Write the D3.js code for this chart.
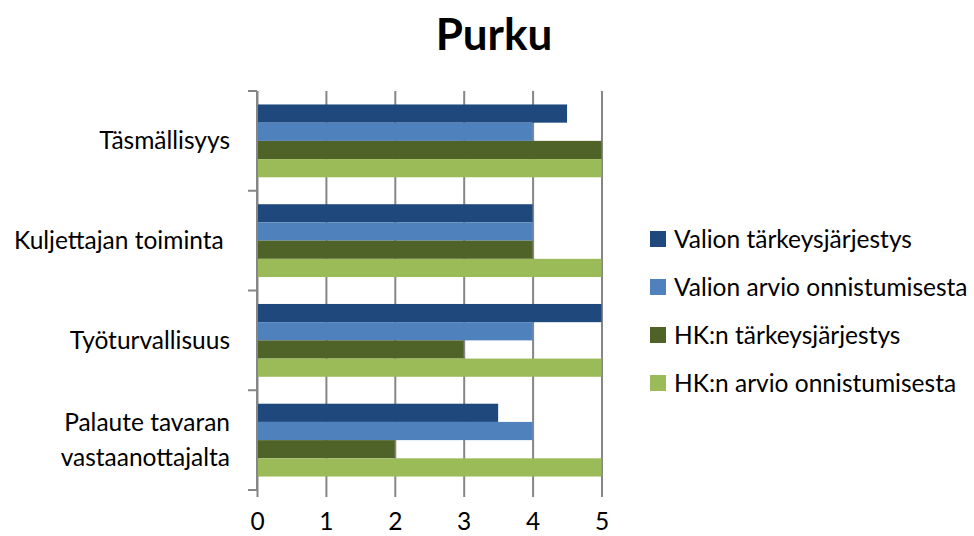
<!DOCTYPE html>
<html>
<head>
<meta charset="utf-8">
<script src="https://cdn.jsdelivr.net/npm/d3@7"></script>
<style>
  html, body { margin: 0; padding: 0; background: #fff; }
  svg { display: block; font-family: Lato, "Open Sans", sans-serif; }
</style>
</head>
<body>
<svg id="chart" width="974" height="536"></svg>
<script>
// Categories (top to bottom) and the four series, one value per category
const categories = ["Täsmällisyys", "Kuljettajan toiminta ", "Työturvallisuus", "Palaute tavaran vastaanottajalta"];
const categoryLines = [["Täsmällisyys"], ["Kuljettajan toiminta "], ["Työturvallisuus"], ["Palaute tavaran", "vastaanottajalta"]];
const seriesNames = ["Valion tärkeysjärjestys", "Valion arvio onnistumisesta", "HK:n tärkeysjärjestys", "HK:n arvio onnistumisesta"];
const valionTarkeys = [4.5, 4, 5, 3.5];
const valionArvio = [4, 4, 4, 4];
const hkTarkeys = [5, 4, 3, 2];
const hkArvio = [5, 5, 5, 5];
const xTicks = [0, 1, 2, 3, 4, 5];
const colors = ["#1F497D", "#4F81BD", "#4F6228", "#9BBB59"];
const seriesValues = [valionTarkeys, valionArvio, hkTarkeys, hkArvio];

const FS = 24.5;
const svg = d3.select("#chart");
const plot = { left: 257, right: 601.5, top: 91, bottom: 490 };

const x = d3.scaleLinear().domain([0, 5]).range([plot.left, plot.right]);
const y = d3.scaleBand().domain(categories).range([plot.top, plot.bottom]).paddingInner(0.27).paddingOuter(0.135);
const ySeries = d3.scaleBand().domain(seriesNames).range([0, y.bandwidth()]);

// Title
svg.append("text")
  .attr("x", 494).attr("y", 50)
  .attr("text-anchor", "middle")
  .attr("font-size", 44).attr("font-weight", "bold")
  .attr("fill", "#000")
  .text("Purku");

// Vertical gridlines + x axis ticks
const xAxis = d3.axisBottom(x).tickValues(xTicks).tickSize(plot.bottom - plot.top + 7).tickSizeOuter(0).tickFormat(d3.format("d"));
const gx = svg.append("g").attr("transform", `translate(0,${plot.top})`).call(xAxis);
gx.select(".domain").remove();
gx.selectAll(".tick line").attr("stroke", "#868686").attr("stroke-width", 2);
gx.selectAll(".tick text")
  .attr("y", 530 - plot.top)
  .attr("dy", null)
  .attr("font-size", FS).attr("fill", "#000")
  .attr("font-family", "Lato, sans-serif");

// Bars
const groups = svg.append("g").selectAll("g")
  .data(categories)
  .join("g")
  .attr("transform", d => `translate(0,${y(d)})`);

groups.selectAll("rect")
  .data((d, i) => seriesNames.map((s, j) => ({ s, v: seriesValues[j][i], c: colors[j] })))
  .join("rect")
  .attr("x", x(0))
  .attr("y", d => ySeries(d.s))
  .attr("width", d => x(d.v) - x(0))
  .attr("height", ySeries.bandwidth())
  .attr("fill", d => d.c);

// Y axis with ticks between categories
const yBoundaries = [plot.top, ...categories.map((c, i) => plot.top + (i + 1) * (plot.bottom - plot.top) / categories.length)];
const gy = svg.append("g");
gy.append("line")
  .attr("x1", plot.left).attr("x2", plot.left)
  .attr("y1", plot.top).attr("y2", plot.bottom)
  .attr("stroke", "#868686").attr("stroke-width", 2);
gy.selectAll("line.tk")
  .data(yBoundaries)
  .join("line")
  .attr("class", "tk")
  .attr("x1", plot.left - 9).attr("x2", plot.left)
  .attr("y1", d => d).attr("y2", d => d)
  .attr("stroke", "#868686").attr("stroke-width", 2);

// Category labels
const labels = svg.append("g").selectAll("text")
  .data(categories)
  .join("text")
  .attr("x", 230)
  .attr("text-anchor", "end")
  .attr("font-size", FS)
  .attr("fill", "#000")
  .attr("xml:space", "preserve")
  .attr("y", (d, i) => y(d) + y.bandwidth() / 2 - (categoryLines[i].length - 1) * 17.5);
labels.each(function(d, i) {
  const t = d3.select(this);
  categoryLines[i].forEach((line, k) => {
    t.append("tspan").attr("x", 230).attr("dy", k === 0 ? "0.35em" : 35).text(line);
  });
});

// Legend
const legend = svg.append("g").selectAll("g")
  .data(seriesNames)
  .join("g")
  .attr("transform", (d, i) => `translate(650,${239 + i * 48})`);
legend.append("rect")
  .attr("x", 0).attr("y", -8).attr("width", 16).attr("height", 16)
  .attr("fill", (d, i) => colors[i]);
legend.append("text")
  .attr("x", 24).attr("y", 0).attr("dy", "0.35em")
  .attr("font-size", FS).attr("fill", "#000")
  .text(d => d);
</script>
</body>
</html>
